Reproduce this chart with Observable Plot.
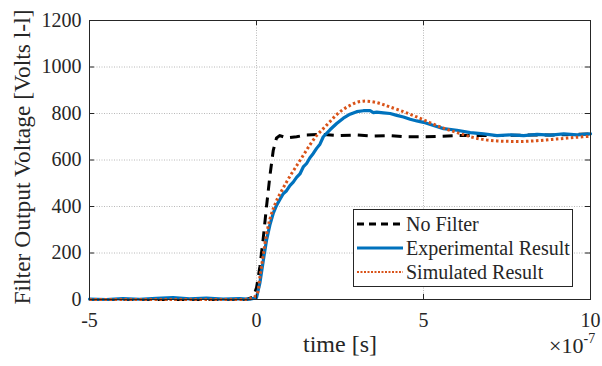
<!DOCTYPE html>
<html><head><meta charset="utf-8">
<script src="https://cdn.jsdelivr.net/npm/d3@7"></script>
<script src="https://cdn.jsdelivr.net/npm/@observablehq/plot@0.6"></script>
<style>
body{margin:0;background:#fff;}
#wrap{position:relative;width:602px;height:366px;font-family:"Liberation Serif","DejaVu Serif",serif;color:#262626;}
#wrap svg text{font-family:"Liberation Serif","DejaVu Serif",serif;}
#legend{position:absolute;left:353px;top:209px;width:220px;height:78px;border:1px solid #262626;background:#fff;box-sizing:border-box;font-size:20px;font-family:"Liberation Serif","DejaVu Serif",serif;}
.row{position:absolute;left:0;height:24px;display:flex;align-items:center;}
.row svg{margin-left:3px;margin-right:3px;}
</style></head><body><div id="wrap"><div id="legend"></div></div>
<script>
// x values in units of 1e-7 s
const xTicks = [-5, 0, 5, 10];
const yTicks = [0, 200, 400, 600, 800, 1000, 1200];

const seriesNames = ["No Filter", "Experimental Result", "Simulated Result"];
const seriesColors = ["#000000", "#0072BD", "#D95319"];

const tNoFilter = [-5,-1,-0.3,-0.1,0,0.1,0.2,0.3,0.4,0.5,0.6,0.7,0.9,1.2,1.5,2,2.5,3,3.5,4,4.5,5,5.5,6,7,8,9,10];
const vNoFilter = [0,0,0,10,50,140,260,400,530,640,695,705,695,700,708,710,705,708,703,705,700,700,702,705,705,707,708,712];

const tExp = [-5,-4.5,-4,-3.5,-3,-2.5,-2,-1.5,-1,-0.5,-0.2,0,0.1,0.2,0.3,0.4,0.5,0.6,0.7,0.8,0.9,1.0,1.1,1.2,1.3,1.4,1.5,1.6,1.7,1.8,1.9,2.0,2.2,2.4,2.6,2.8,3.0,3.2,3.4,3.5,3.6,3.8,4.0,4.2,4.4,4.6,4.8,5.0,5.3,5.6,6.0,6.4,6.8,7.2,7.6,8.0,8.4,8.8,9.2,9.6,10];
const vExp = [2,0,4,1,5,8,3,6,2,4,1,8,70,165,255,320,370,405,430,455,468,490,505,525,540,570,585,610,628,650,668,700,730,757,780,797,808,812,812,804,806,803,800,792,785,775,768,762,748,735,728,718,712,705,708,705,710,707,712,708,712];

const tSim = [-5,-4,-3,-2,-1,-0.4,-0.2,0,0.1,0.2,0.3,0.4,0.5,0.6,0.8,1.0,1.2,1.4,1.6,1.8,2.0,2.2,2.4,2.6,2.8,3.0,3.2,3.4,3.6,3.8,4.0,4.4,4.8,5.2,5.6,6.0,6.4,6.8,7.2,7.6,8.0,8.4,8.8,9.2,9.6,10];
const vSim = [0,0,0,0,0,0,3,20,95,190,280,345,390,425,480,530,575,620,665,705,735,765,795,818,835,848,853,852,847,838,828,808,785,760,737,718,700,688,682,680,680,683,688,693,698,702];

const W = 602, H = 366, mL = 89, mR = 12, mT = 20, mB = 67;
const xDom = [-5, 10], yDom = [0, 1200];
const tickPx = 5;
const tkx = tickPx * (xDom[1] - xDom[0]) / (W - mL - mR);
const tky = tickPx * (yDom[1] - yDom[0]) / (H - mT - mB);

const toRows = (t, v) => t.map((d, i) => ({t: d, v: v[i]}));
const dNo = toRows(tNoFilter, vNoFilter);
const dExp = toRows(tExp, vExp);
const dSim = toRows(tSim, vSim);

const font = '"Liberation Serif","DejaVu Serif",serif';
const ink = "#262626";

const chart = Plot.plot({
  width: W, height: H,
  marginLeft: mL, marginRight: mR, marginTop: mT, marginBottom: mB,
  x: {domain: xDom},
  y: {domain: yDom},
  style: {fontFamily: font, fontSize: "20px", color: ink, background: "white", overflow: "visible"},
  marks: [
    Plot.gridX(xTicks, {stroke: "#9a9a9a", strokeOpacity: 0.7, strokeDasharray: "1,1.5"}),
    Plot.gridY(yTicks, {stroke: "#9a9a9a", strokeOpacity: 0.7, strokeDasharray: "1,1.5"}),
    Plot.line(dNo, {x: "t", y: "v", stroke: seriesColors[0], strokeWidth: 3, strokeDasharray: "10,7", strokeLinecap: "butt", curve: "linear"}),
    Plot.line(dExp, {x: "t", y: "v", stroke: seriesColors[1], strokeWidth: 3.2, curve: "linear"}),
    Plot.line(dSim, {x: "t", y: "v", stroke: seriesColors[2], strokeWidth: 3, strokeDasharray: "2.5,2.5", strokeLinecap: "butt", curve: "catmull-rom"}),
    Plot.frame({stroke: ink}),
    Plot.ruleY(yTicks, {x1: xDom[0], x2: xDom[0] + tkx, stroke: ink}),
    Plot.ruleY(yTicks, {x1: xDom[1] - tkx, x2: xDom[1], stroke: ink}),
    Plot.ruleX(xTicks, {y1: yDom[0], y2: yDom[0] + tky, stroke: ink}),
    Plot.ruleX(xTicks, {y1: yDom[1] - tky, y2: yDom[1], stroke: ink}),
    Plot.axisX(xTicks, {tickSize: 0, tickPadding: 13, tickFormat: d => String(d), label: null, fontSize: 20, fontFamily: font, fill: ink}),
    Plot.axisY(yTicks, {tickSize: 0, tickPadding: 8, tickFormat: d => String(d), label: null, fontSize: 20, fontFamily: font, fill: ink}),
    Plot.text(["Filter Output Voltage [Volts l-l]"], {frameAnchor: "left", textAnchor: "middle", rotate: -90, dx: -67, dy: -3, fontSize: 23.5, fontFamily: font, fill: ink}),
    Plot.text(["time [s]"], {frameAnchor: "bottom", textAnchor: "middle", dy: 52, fontSize: 24, fontFamily: font, fill: ink}),
    Plot.text(["\u00d710"], {frameAnchor: "bottom-right", textAnchor: "end", dx: -7, dy: 53, fontSize: 22, fontFamily: font, fill: ink}),
    Plot.text(["-7"], {frameAnchor: "bottom-right", textAnchor: "start", dx: -7, dy: 43, fontSize: 14, fontFamily: font, fill: ink})
  ]
});
document.getElementById("wrap").prepend(chart);

// legend
const legend = document.getElementById("legend");
const dashes = ["7,5", null, "2,1.5"];
const widths = [3, 3, 2];
seriesNames.forEach((name, i) => {
  const row = document.createElement("div");
  row.className = "row";
  row.style.top = (2 + i * 24) + "px";
  const svg = d3.create("svg").attr("width", 46).attr("height", 10);
  svg.append("line").attr("x1", 0).attr("x2", 46).attr("y1", 5).attr("y2", 5)
    .attr("stroke", seriesColors[i]).attr("stroke-width", widths[i])
    .attr("stroke-dasharray", dashes[i]);
  row.appendChild(svg.node());
  const span = document.createElement("span");
  span.textContent = name;
  row.appendChild(span);
  legend.appendChild(row);
});
</script></body></html>
